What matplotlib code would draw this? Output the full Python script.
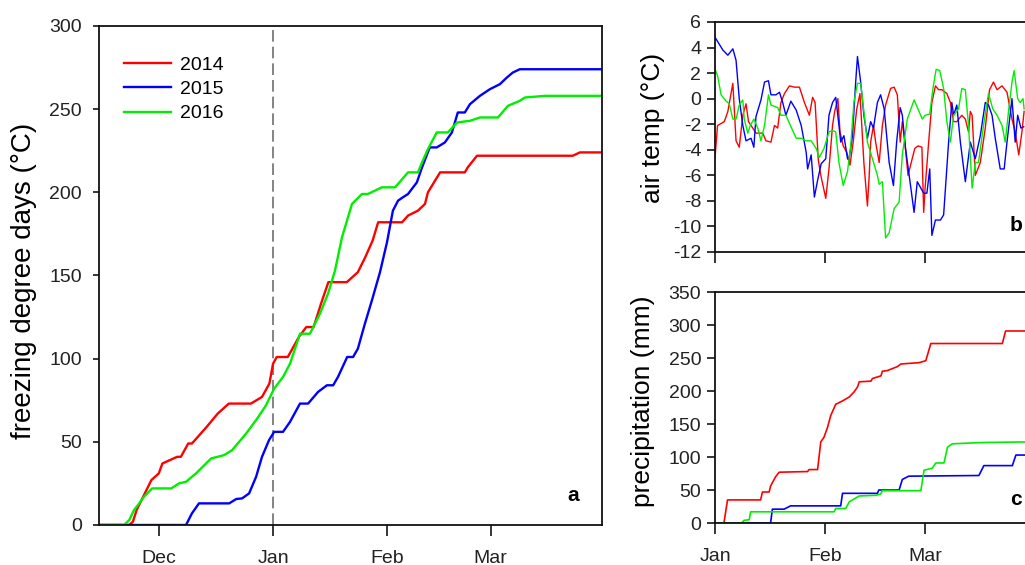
import matplotlib
matplotlib.use("Agg")
import matplotlib.pyplot as plt

plt.rcParams['font.family'] = ['Liberation Sans', 'DejaVu Sans']
plt.rcParams['axes.unicode_minus'] = False

# day numbers are counted from 1 January (Dec 1 = -31, Feb 1 = 31, Mar 1 = 59)
years = ['2014', '2015', '2016']
colors = {'2014': '#ff0000', '2015': '#0000ff', '2016': '#00ee00'}

month_days = [-31, 0, 31, 59]
month_names = ['Dec', 'Jan', 'Feb', 'Mar']

# (a) freezing degree days
fdd_day_2014 = [-47, -39, -38, -37, -33, -31, -30, -26, -25, -23, -22, -18, -15, -12, -6, -3, -1, 0, 1, 4, 7, 9, 11,
                13, 15, 20, 23, 25, 27, 28.5, 35, 36.6, 39.3, 41.2, 42, 45.3, 52, 52.8, 55.3, 81.3, 83.2, 89.2]
fdd_2014 = [0, 0, 2, 9, 27, 31, 37, 41, 41, 49, 49, 59, 67, 73, 73, 77, 85, 97, 101, 101, 113, 119, 119,
            133, 146, 146, 152, 161, 171, 182, 182, 186, 189, 193, 200, 212, 212, 215, 222, 222, 224, 224]

fdd_day_2015 = [-47, -23.6, -22, -20.1, -18.2, -11.9, -10, -8.4, -6.5, -4.6, -3, -1.1, 0.3, 2.7, 4.6, 7.3, 9.5,
                12.2, 14.6, 16.3, 17.6, 20.1, 21.7, 23, 24.9, 26.8, 29, 30.9, 32.5, 33.9, 35.2, 36.6, 39, 40.4,
                42.5, 44.4, 46.6, 48.5, 50.1, 52, 53.4, 56.1, 58.8, 61.5, 63.4, 65, 66.9, 89.2]
fdd_2015 = [0, 0, 7, 13, 13, 13, 15.6, 16, 19, 29, 41, 51, 56, 56, 62, 73, 73,
            80, 84, 84, 89, 101, 101, 106, 121, 135, 152, 170, 189, 195, 197, 199, 206, 215,
            227, 227, 230, 236, 248, 248, 253, 258, 262, 265, 269, 272, 274, 274]

fdd_day_2016 = [-47, -40.4, -39, -37.7, -36.3, -35, -32.8, -27.6, -25.5, -23.6, -20.9, -16.8, -13.3, -11.1, -7.3,
                -4.3, -1.9, 0.3, 2.7, 4.6, 7.3, 10, 12.7, 14.9, 16.8, 18.7, 21.4, 24.1, 25.7, 29.5, 33.1, 36.6,
                39.3, 40.4, 42, 44.4, 47.4, 49.9, 53.4, 56.1, 61, 63.7, 66.9, 68.3, 73.7, 89.2]
fdd_2016 = [0, 0, 3, 9, 13, 17, 22, 22, 25, 26, 31, 40, 42, 45, 55,
            64, 72, 82, 89, 97, 115, 115, 127, 139, 153, 173, 193, 199, 199, 203, 203, 212,
            212, 218, 226, 236, 236, 242, 243, 245, 245, 252, 255, 257, 258, 258]

# (b) air temperature
temp_day_2014 = [0, 0.7, 2.6, 3.6, 5, 5.9, 6.8, 7.8, 8.7, 9.4, 10.6, 11.5, 13.4, 14.3, 15.7, 16.7, 17.6, 18.5,
                 19.5, 20.9, 22.3, 23.7, 25.1, 26.5, 27.4, 28.1, 29, 29.7, 31.1, 32, 33, 33.6, 34.5, 35.1, 36,
                 37, 37.9, 38.8, 39.8, 40.7, 41.8, 42.8, 43.3, 43.7, 44.5, 45.1, 46.1, 47, 47.9, 49.3, 50.3,
                 51.2, 52, 52.6, 53.3, 54.2, 55.1, 56.1, 57, 58.1, 58.6, 59, 60, 60.9, 61.9, 62.8, 63.7, 65.1,
                 66.1, 67, 67.9, 69.3, 70.3, 71.2, 71.7, 72.2, 73.1, 74.5, 75.9, 77.1, 78.2, 79.2, 80.6, 82,
                 83.4, 84.3, 85.3, 86.2, 86.8]
temp_2014 = [-4.6, -2.1, -1.8, -1.0, 1.2, -3.3, -3.8, -1.3, -0.4, -1.8, -2.3, -2.7, -2.7, -3.3, -3.4, -2.1, -2.3,
             -0.3, 0.4, 1.0, 0.9, 0.9, -0.3, -1.3, 0.1, -0.3, -4.8, -6.0, -7.8, -5.5, -2.1, -1.0, 0.0, -2.6,
             -3.7, -4.2, -5.2, -3.4, -0.8, 0.4, -5.0, -8.4, -6.0, -3.4, -2.1, -3.4, -5.0, -2.1, -0.5, 0.8,
             0.9, 0.3, -3.4, -1.8, -3.4, -6.0, -5.0, -3.9, -3.7, -3.8, -8.9, -7.0, -3.4, -0.3, 1.0, 0.7, 0.7,
             0.4, -0.3, -1.8, -1.8, -1.3, -1.6, -2.6, -1.0, -1.3, -6.0, -5.0, -2.3, 0.7, 1.3, 0.7, 1.0, 0.5,
             -1.6, -2.6, -4.4, -2.6, -1.0]

temp_day_2015 = [0, 2.2, 3.6, 5, 5.9, 6.8, 7.8, 8.7, 10.1, 10.9, 11.5, 12.9, 13.9, 15, 15.7, 17.1, 18.1, 19,
                 19.9, 21.3, 22.8, 24.2, 25.6, 26, 27, 27.9, 28.8, 29.8, 31.1, 32, 33, 33.9, 34.8, 35.3, 36.2,
                 37.2, 37.6, 38.6, 39.5, 40, 40.9, 41.8, 42.8, 43.7, 44.5, 45.6, 46.5, 47.5, 48.9, 50.1, 51,
                 52, 52.6, 53.5, 55, 55.9, 56.8, 57.8, 58.6, 59.5, 60.3, 60.9, 61.9, 63.3, 64.2, 65.6, 66.5,
                 67, 67.9, 68.9, 70.3, 71.7, 73.1, 74.5, 75.9, 76.8, 77.8, 78.7, 80.1, 81.2, 82, 83.4, 84.3,
                 85, 85.9, 86.7]
temp_2015 = [4.8, 3.8, 3.4, 3.9, 3.0, 0.0, -2.1, -3.3, -3.1, -3.8, -1.4, -0.1, 1.3, 1.4, 0.3, 0.3, 0.5, -0.3,
             -1.3, -0.2, -0.9, -2.1, -4.2, -5.5, -4.4, -7.7, -6.4, -5.1, -4.7, -1.3, -0.3, 0.1, -2.1, -3.4,
             -2.9, -4.7, -4.8, -2.9, 1.3, 3.3, 1.3, -1.3, -3.1, -1.8, -2.3, -0.3, 0.3, -0.8, -5.0, -6.8,
             -3.4, -0.7, -1.3, -3.9, -7.0, -8.9, -6.5, -7.0, -7.4, -7.4, -5.5, -10.7, -9.5, -9.5, -9.1, -3.4,
             -0.3, -1.3, -0.5, -3.4, -6.5, -3.4, -4.7, -2.9, -0.3, -0.5, -1.3, -3.1, -5.5, -5.5, -3.4, 0.0,
             -3.4, -1.3, -2.3, -2.2]

temp_day_2016 = [0, 0.7, 1.7, 3.1, 4, 5, 5.9, 6.8, 7.8, 8.2, 9.2, 9.9, 10.9, 12, 12.9, 13.9, 15, 15.7, 17.6,
                 18.5, 19.9, 21.8, 22.8, 24.2, 25.6, 27, 28.4, 29.3, 30.6, 32, 33, 33.9, 34.8, 36, 37.2, 38.1,
                 39, 40, 40.9, 41.8, 42.8, 44.2, 45.6, 46.1, 47, 47.9, 48.9, 50.3, 51.7, 52.6, 54, 55.9, 57.3,
                 58.2, 59, 60.3, 61.2, 62.1, 63.1, 64.2, 65.1, 66.1, 67, 68.4, 69.3, 70.3, 71.2, 72.2, 73.1,
                 74, 75.4, 76.8, 78, 79.2, 80.6, 81.5, 82.5, 83.4, 84, 85, 85.7, 86.5, 86.8]
temp_2016 = [2.3, 1.8, 0.3, -0.2, -0.4, -1.6, -1.6, -0.5, -0.1, -1.6, -2.7, -2.1, -1.6, -2.3, -3.3, -2.1, 0.3,
             -0.5, -0.7, -1.3, -1.3, -2.5, -3.1, -3.1, -3.3, -3.3, -3.9, -4.6, -3.9, -2.6, -2.5, -2.6, -5.0,
             -6.8, -5.7, -3.7, -0.3, 1.2, 1.2, -1.0, -3.4, -4.7, -6.0, -6.7, -6.5, -10.9, -10.5, -8.6, -8.1,
             -4.4, -1.6, -0.1, -1.0, -1.6, -1.3, -1.2, 0.8, 2.3, 2.2, 0.8, -1.8, -3.4, -1.3, -0.8, 0.8, 0.7,
             -2.1, -7.0, -5.0, -5.0, -2.1, 0.4, -0.8, -1.3, -2.1, -3.4, -0.8, 1.3, 2.2, 0.0, -0.3, 0.0, -0.8]

# (c) cumulative precipitation
prec_day_2014 = [0, 2.5, 3.5, 12.8, 13.3, 15.2, 15.6, 17, 18, 26, 26.4, 28.8, 29.7, 30.6, 31.6, 32.5, 33.9, 35.8,
                 37.7, 39.1, 40, 40.5, 43.8, 44.2, 46.6, 47, 48.4, 49.8, 51.2, 52.2, 57.3, 59.2, 60.6, 80.7,
                 81.6, 89]
prec_2014 = [0, 0, 35, 35, 47, 47, 56, 70, 77, 78, 81, 81, 123, 130, 145, 163, 180, 185,
             191, 199, 206, 214, 215, 219, 223, 230, 231, 234, 237, 241, 243, 246, 272, 272,
             291, 291]

prec_day_2015 = [0, 15.6, 16.1, 19.4, 21.2, 35.3, 35.8, 45.6, 46, 51.7, 52.6, 54.4, 74.1, 75.5, 83.5, 84.5, 89]
prec_2015 = [0, 0, 21, 21, 26, 26, 45, 45, 50, 50, 66, 71, 72, 87, 87, 103, 103]

prec_day_2016 = [0, 7.5, 8.1, 9.6, 10, 33.4, 33.9, 36.7, 37.7, 38.6, 40.5, 45.2, 46.5, 47, 57.8, 58.7, 61, 62,
                 64.3, 65.3, 66.6, 75, 89]
prec_2016 = [0, 0, 4, 5, 17, 17, 22, 22, 32, 35, 41, 42, 44, 49, 49, 80, 83, 91,
             91, 115, 120, 122, 123]

fdd = {'2014': (fdd_day_2014, fdd_2014), '2015': (fdd_day_2015, fdd_2015), '2016': (fdd_day_2016, fdd_2016)}
temp = {'2014': (temp_day_2014, temp_2014), '2015': (temp_day_2015, temp_2015), '2016': (temp_day_2016, temp_2016)}
prec = {'2014': (prec_day_2014, prec_2014), '2015': (prec_day_2015, prec_2015), '2016': (prec_day_2016, prec_2016)}

fig = plt.figure(figsize=(10.25, 5.65), dpi=100)
axa = fig.add_axes([0.0966, 0.0708, 0.4907, 0.8832])
axb = fig.add_axes([0.6976, 0.5540, 0.3102, 0.4071])
axc = fig.add_axes([0.6976, 0.0743, 0.3102, 0.4088])

tick_col = '#222222'


def style(ax, ylen):
    for s in ax.spines.values():
        s.set_linewidth(1.3)
        s.set_color('#111111')
    ax.tick_params(axis='x', direction='out', length=8, width=1.1, labelsize=14, pad=10,
                   labelcolor=tick_col, top=False)
    ax.tick_params(axis='y', direction='out', length=ylen, width=1.1, labelsize=14, pad=4,
                   labelcolor=tick_col, right=False)


# panel a
axa.axvline(0, color='#6e6e6e', lw=1.2, ls=(0, (7, 3)), zorder=1)
for y in years:
    d, v = fdd[y]
    axa.plot(d, v, color=colors[y], lw=1.7, label=y, zorder=2)
axa.set_xlim(-47.2, 89.2)
axa.set_ylim(0, 300)
axa.set_yticks(range(0, 301, 50))
axa.set_xticks(month_days)
axa.set_xticklabels(month_names)
style(axa, 4.5)
axa.tick_params(axis='y', pad=8)
axa.set_ylabel('freezing degree days (°C)', fontsize=20)
axa.yaxis.set_label_coords(-0.124, 0.49)
axa.text(0.942, 0.06, 'a', transform=axa.transAxes, fontsize=15, fontweight='bold', ha='center', va='center')
axa.legend(loc='upper left', bbox_to_anchor=(0.05, 0.94), frameon=False, fontsize=14,
           handlelength=2.4, handletextpad=0.45, labelspacing=0.35, borderaxespad=0, borderpad=0)

# panel b
for y in years:
    d, v = temp[y]
    axb.plot(d, v, color=colors[y], lw=1.0)
axb.set_xlim(0, 89.3)
axb.set_ylim(-12, 6)
axb.set_yticks(range(-12, 7, 2))
axb.set_xticks(month_days[1:])
axb.set_xticklabels([])
style(axb, 6)
axb.set_ylabel('air temp (°C)', fontsize=19)
axb.yaxis.set_label_coords(-0.157, 0.54)
axb.text(0.947, 0.117, 'b', transform=axb.transAxes, fontsize=15, fontweight='bold', ha='center', va='center')

# panel c
for y in years:
    d, v = prec[y]
    axc.plot(d, v, color=colors[y], lw=1.2)
axc.set_xlim(0, 89.3)
axc.set_ylim(0, 350)
axc.set_yticks(range(0, 351, 50))
axc.set_xticks(month_days[1:])
axc.set_xticklabels(month_names[1:])
style(axc, 6)
axc.set_ylabel('precipitation (mm)', fontsize=19)
axc.yaxis.set_label_coords(-0.189, 0.526)
axc.text(0.947, 0.10, 'c', transform=axc.transAxes, fontsize=15, fontweight='bold', ha='center', va='center')

fig.savefig('out.png', dpi=100)
